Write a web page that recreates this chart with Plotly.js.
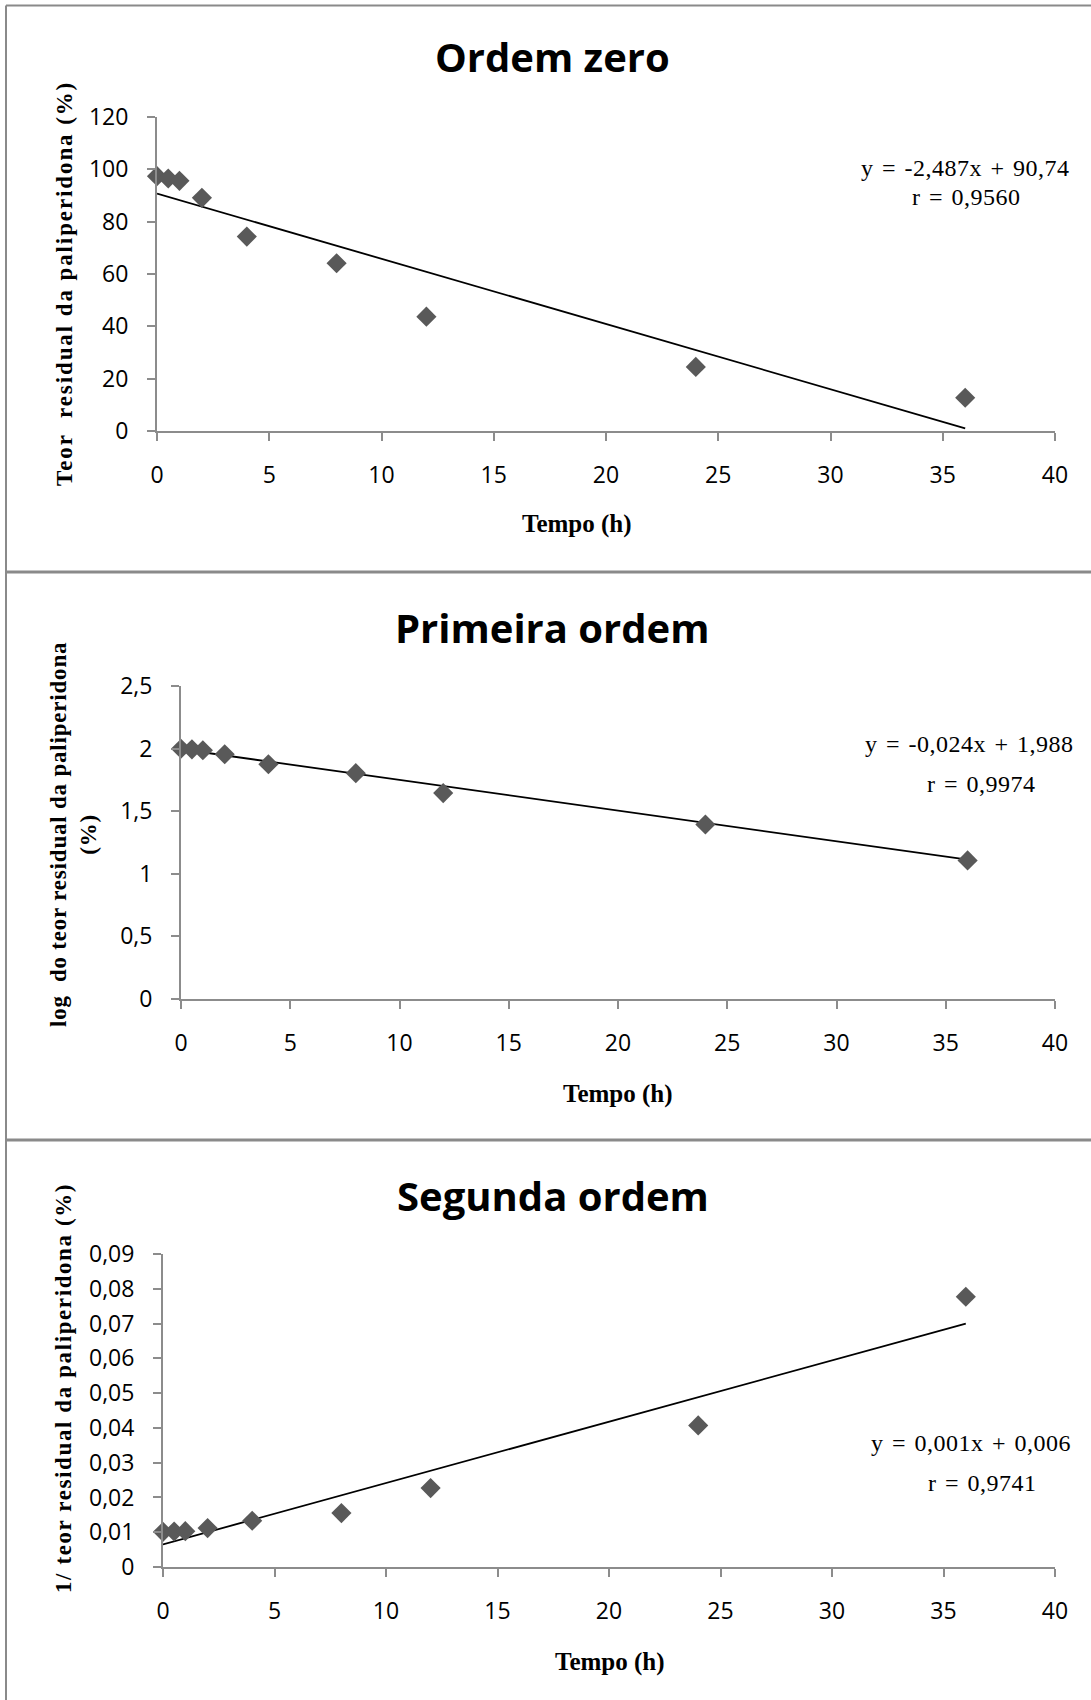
<!DOCTYPE html>
<html><head><meta charset="utf-8">
<script src="https://cdn.plot.ly/plotly-3.0.1.min.js"></script>
<style>html,body{margin:0;padding:0;background:#fff}</style>
</head><body><div id="chart" style="width:1091px;height:1700px"></div>
<script>
// ---- data ----
const tempoHoras = [0, 0.5, 1, 2, 4, 8, 12, 24, 36];
const teorResidual = [97.4, 96.5, 95.6, 89.1, 74.3, 64.1, 43.7, 24.5, 12.7];
const logTeorResidual = [1.999, 1.994, 1.987, 1.955, 1.875, 1.804, 1.645, 1.394, 1.107];
const inversoTeor = [0.0101, 0.0102, 0.0103, 0.0112, 0.0133, 0.0155, 0.0227, 0.0407, 0.0777];
const trendX = [0, 36];
const trendOrdemZero = [90.74, 1.0];
const trendPrimeira = [1.995, 1.113];
const trendSegunda = [0.0065, 0.0700];
const titulos = ['Ordem zero', 'Primeira ordem', 'Segunda ordem'];
const equacoes = ['y = -2,487x + 90,74', 'y = -0,024x + 1,988', 'y = 0,001x + 0,006'];
const correlacoes = ['r = 0,9560', 'r = 0,9974', 'r = 0,9741'];
const tituloX = 'Tempo (h)';
const titulosY = ['Teor\u00a0 residual da paliperidona (%)', 'log\u00a0 do teor residual da paliperidona<br>(%)', '1/ teor residual da paliperidona (%)'];

// ---- styling ----
const W = 1091, H = 1700;
const AX = '#8c8c8c';
const MK = '#595959';
const px = v => v / W;
const py = v => 1 - v / H;

function scatter(y, xa, ya) {
  return {x: tempoHoras, y: y, xaxis: xa, yaxis: ya, type: 'scatter', mode: 'markers',
    marker: {symbol: 'diamond', size: 15.5, color: MK}, cliponaxis: false, hoverinfo: 'skip'};
}
function trend(y, xa, ya) {
  return {x: trendX, y: y, xaxis: xa, yaxis: ya, type: 'scatter', mode: 'lines',
    line: {color: '#000', width: 1.8}, cliponaxis: false, hoverinfo: 'skip'};
}
const tickFont = {family: 'Open Sans', size: 23, color: '#000'};
function xAxis(dom, anchor) {
  return {domain: dom, anchor: anchor, range: [0, 40], tick0: 0, dtick: 5,
    showline: true, linecolor: AX, linewidth: 2, ticks: 'outside', ticklen: 8, tickwidth: 2, tickcolor: AX,
    showgrid: false, zeroline: false, tickfont: tickFont, ticklabelstandoff: 14, fixedrange: true};
}
function yAxis(dom, anchor, rng, dt) {
  return {domain: dom, anchor: anchor, range: rng, tick0: 0, dtick: dt,
    showline: true, linecolor: AX, linewidth: 2, ticks: 'outside', ticklen: 8, tickwidth: 2, tickcolor: AX,
    showgrid: false, zeroline: false, tickfont: tickFont, ticklabelstandoff: 14, fixedrange: true};
}

const data = [
  trend(trendOrdemZero, 'x', 'y'), scatter(teorResidual, 'x', 'y'),
  trend(trendPrimeira, 'x2', 'y2'), scatter(logTeorResidual, 'x2', 'y2'),
  trend(trendSegunda, 'x3', 'y3'), scatter(inversoTeor, 'x3', 'y3')
];

function ann(text, x, y, font, angle) {
  return {text: text, xref: 'paper', yref: 'paper', x: px(x), y: py(y), xanchor: 'center', yanchor: 'middle',
    showarrow: false, font: font, textangle: angle || 0};
}
const titleFont = {family: 'Open Sans', size: 40, color: '#000', weight: 'bold'};
const serifBold = {family: 'Liberation Serif', size: 25, color: '#000', weight: 'bold'};
const yTitleFont = {family: 'Liberation Serif', size: 23, color: '#000', weight: 'bold'};
const eqFont = {family: 'Liberation Serif', size: 24, color: '#000'};
const sp = (t, ls, ws) => '<span style="letter-spacing:' + ls + 'px;word-spacing:' + (ws || 0) + 'px">' + t + '</span>';

const annotations = [
  ann(titulos[0], 552, 56, titleFont),
  ann(titulos[1], 552, 627, titleFont),
  ann(titulos[2], 553, 1195, titleFont),
  ann(tituloX, 577, 524, serifBold),
  ann(tituloX, 618, 1094, serifBold),
  ann(tituloX, 610, 1662, serifBold),
  ann(sp(titulosY[0], 1.9), 65, 284, yTitleFont, -90),
  ann(sp(titulosY[1], 0.8), 73, 835, yTitleFont, -90),
  ann(sp(titulosY[2], 1.6), 63, 1388, yTitleFont, -90),
  ann(sp(equacoes[0], 0.5, 2), 965, 168, eqFont),
  ann(sp(correlacoes[0], 0.5, 2), 966, 197, eqFont),
  ann(sp(equacoes[1], 0.5, 2), 969, 744, eqFont),
  ann(sp(correlacoes[1], 0.5, 2), 981, 784, eqFont),
  ann(sp(equacoes[2], 0.5, 2), 971, 1443, eqFont),
  ann(sp(correlacoes[2], 0.5, 2), 982, 1483, eqFont)
];

const BC = '#8a8a8a';
const shapes = [
  {type: 'line', xref: 'paper', yref: 'paper', x0: px(6), x1: 1, y0: py(5.5), y1: py(5.5), line: {color: BC, width: 2}},
  {type: 'line', xref: 'paper', yref: 'paper', x0: px(6), x1: px(6), y0: py(5.5), y1: 0, line: {color: BC, width: 2}},
  {type: 'line', xref: 'paper', yref: 'paper', x0: px(6), x1: 1, y0: py(572), y1: py(572), line: {color: BC, width: 3}},
  {type: 'line', xref: 'paper', yref: 'paper', x0: px(6), x1: 1, y0: py(1140), y1: py(1140), line: {color: BC, width: 3}}
];

const layout = {
  width: W, height: H, margin: {l: 0, r: 0, t: 0, b: 0},
  paper_bgcolor: '#fff', plot_bgcolor: '#fff', showlegend: false, separators: ', ',
  xaxis: xAxis([px(157), px(1055)], 'y'),
  yaxis: yAxis([py(431), py(117)], 'x', [0, 120], 20),
  xaxis2: xAxis([px(181), px(1055)], 'y2'),
  yaxis2: yAxis([py(999), py(686)], 'x2', [0, 2.5], 0.5),
  xaxis3: xAxis([px(163), px(1055)], 'y3'),
  yaxis3: yAxis([py(1567), py(1254)], 'x3', [0, 0.09], 0.01),
  annotations: annotations, shapes: shapes
};
Plotly.newPlot('chart', data, layout, {staticPlot: true});
</script></body></html>
